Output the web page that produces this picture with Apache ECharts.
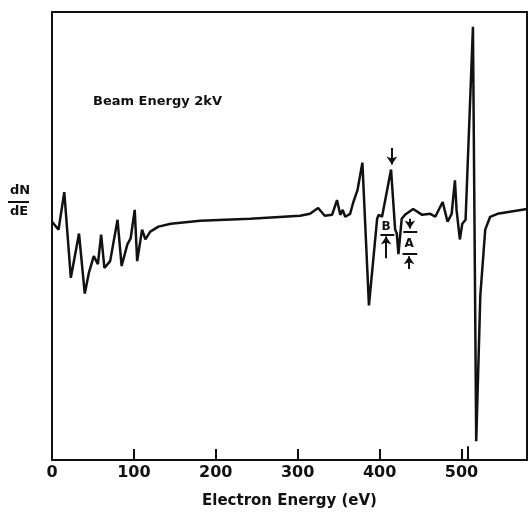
<!DOCTYPE html>
<html>
<head>
<meta charset="utf-8">
<script src="https://cdn.jsdelivr.net/npm/echarts@6/dist/echarts.min.js"></script>
<style>
  html, body { margin: 0; padding: 0; background: #fff; }
  #chart { width: 530px; height: 514px; }
</style>
</head>
<body>
<div id="chart"></div>
<script>
// x: electron energy (eV), y: dN/dE in arbitrary units
const energy = [0, 8, 15, 23, 33, 40, 45, 51, 56, 60, 64, 71, 80, 85, 92, 96, 101, 104, 110, 114, 120, 130,
  145, 181, 242, 303, 315, 325, 333, 342, 348, 352, 355, 358, 364, 368, 373, 379, 387, 397, 399, 403,
  414, 419, 421, 423, 427, 431, 441, 452, 462, 468, 477, 483, 488, 492, 494, 498, 501, 503, 505,
  514, 518, 523, 529, 535, 544, 580];
const dNdE = [242, 234, 272, 185, 230, 169, 190, 207, 199, 229, 195, 202, 244, 197, 219, 225, 254, 202, 234, 224, 232, 237,
  240, 243, 245, 248, 250, 256, 248, 249, 264, 249, 254, 247, 250, 262, 274, 302, 157, 245, 249, 247,
  295, 234, 230, 209, 245, 249, 255, 249, 250, 247, 262, 242, 250, 284, 254, 224, 240, 239, 244,
  440, 19, 167, 234, 247, 250, 255];
const xTicks = [0, 100, 200, 300, 400, 500];

const font = '"DejaVu Sans", sans-serif';
const ink = '#111';

const chart = echarts.init(document.getElementById('chart'));

const option = {
  animation: false,
  title: {
    text: 'Beam Energy 2kV',
    left: 88, top: 90,
    textStyle: { fontFamily: font, fontSize: 13, fontWeight: 'bold', color: ink }
  },
  grid: { left: 52, right: 3, top: 12, bottom: 47, show: true, borderColor: ink, borderWidth: 2 },
  xAxis: {
    type: 'value', min: 0, max: 580, interval: 100,
    name: 'Electron Energy (eV)', nameLocation: 'middle', nameGap: 34,
    nameTextStyle: { fontFamily: font, fontSize: 15, fontWeight: 'bold', color: ink },
    axisLine: { lineStyle: { color: ink, width: 2 } },
    axisTick: { inside: true, length: 11, lineStyle: { color: ink, width: 2 } },
    axisLabel: {
      fontFamily: font, fontSize: 16, fontWeight: 'bold', color: ink, margin: 5,
      showMaxLabel: false,
      formatter: v => xTicks.indexOf(v) >= 0 ? String(v) : ''
    },
    splitLine: { show: false }
  },
  yAxis: {
    type: 'value', min: 0, max: 455,
    axisLine: { show: false }, axisTick: { show: false }, axisLabel: { show: false },
    splitLine: { show: false }
  },
  graphic: [
    { type: 'text', left: 10, top: 184, style: { text: 'dN', font: 'bold 13px "DejaVu Sans"', fill: ink } },
    { type: 'rect', shape: { x: 8, y: 201, width: 21, height: 2 }, style: { fill: ink } },
    { type: 'text', left: 10, top: 205, style: { text: 'dE', font: 'bold 13px "DejaVu Sans"', fill: ink } }
  ],
  series: [{
    type: 'line',
    data: energy.map((e, i) => [e, dNdE[i]]),
    showSymbol: false,
    lineStyle: { color: ink, width: 2.5 },
    markLine: {
      silent: true,
      symbolSize: 8,
      lineStyle: { color: ink, width: 2, type: 'solid' },
      label: { show: false },
      data: [
        // arrow onto the 414 eV peak
        [{ coord: [415, 317], symbol: 'none' }, { coord: [415, 300], symbol: 'arrow' }],
        // B marker
        [{ coord: [401, 229], symbol: 'none' }, { coord: [418, 229], symbol: 'none' }],
        [{ coord: [408, 205], symbol: 'none' }, { coord: [408, 227], symbol: 'arrow' }],
        // A marker
        [{ coord: [437, 245], symbol: 'none' }, { coord: [437, 235], symbol: 'arrow' }],
        [{ coord: [429, 232], symbol: 'none' }, { coord: [446, 232], symbol: 'none' }],
        [{ coord: [428, 209], symbol: 'none' }, { coord: [446, 209], symbol: 'none' }],
        [{ coord: [436, 194], symbol: 'none' }, { coord: [436, 207], symbol: 'arrow' }],
        // small mark at the bottom axis
        [{ coord: [508, 0], symbol: 'none' }, { coord: [508, 14], symbol: 'none' }]
      ]
    },
    markPoint: {
      silent: true,
      symbol: 'circle', symbolSize: 0,
      label: { show: true, position: 'inside', fontFamily: font, fontSize: 12, fontWeight: 'bold', color: ink },
      data: [
        { coord: [408, 237], label: { formatter: 'B' } },
        { coord: [436, 219], label: { formatter: 'A' } }
      ]
    }
  }]
};

chart.setOption(option);
</script>
</body>
</html>
